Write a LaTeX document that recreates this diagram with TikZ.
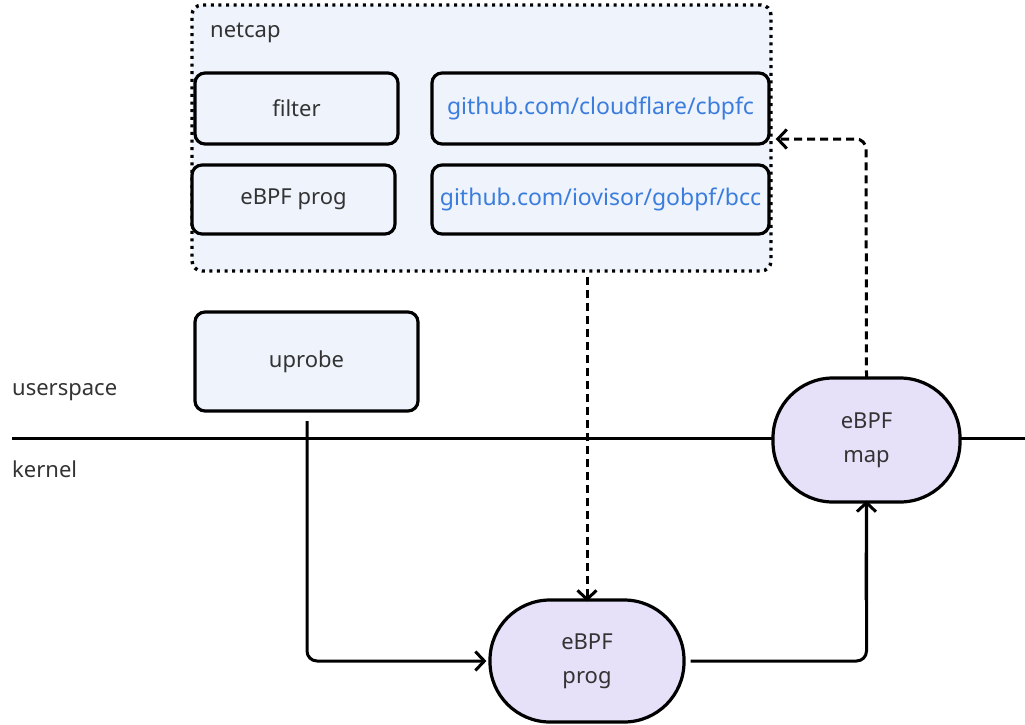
\documentclass[tikz,border=0pt]{standalone}
\usepackage{fontspec}
\setmainfont{Noto Sans}
\usetikzlibrary{arrows.meta}
\definecolor{txt}{HTML}{333333}
\definecolor{linkblue}{HTML}{3B7DDD}
\definecolor{paleblue}{HTML}{EEF3FC}
\definecolor{lavender}{HTML}{E6E0F8}
\tikzset{
  box/.style={draw=black, line width=3.2pt, rounded corners=10pt, fill=paleblue,
    text=txt, font=\fontsize{22}{26}\selectfont, inner sep=0pt},
  pill/.style={draw=black, line width=3.2pt, rounded corners=60pt, fill=lavender,
    text=txt, font=\fontsize{22}{34}\selectfont, align=center, inner sep=0pt},
  flow/.style={line width=3pt, rounded corners=10pt,
    -{Straight Barb[length=9pt,width=19pt,line width=3pt]}},
  dflow/.style={flow, dash pattern=on 8pt off 5pt},
  lbl/.style={text=txt, font=\fontsize{22}{26}\selectfont, anchor=west, inner sep=0pt},
  linktext/.style={text=linkblue, font=\fontsize{23}{26}\selectfont},
}
\begin{document}
\begin{tikzpicture}[x=1pt,y=-1pt]
  \useasboundingbox (0,0) rectangle (1025,725);

  % netcap container
  \node[draw=black, line width=3.4pt, dash pattern=on 3pt off 4.6pt, rounded corners=10pt,
        fill=paleblue, minimum width=579pt, minimum height=266pt, inner sep=0pt]
        (netcap) at (481.5,138) {};
  \node[lbl] (netcaplbl) at (210,33) {netcap};

  \node[box, minimum width=203pt, minimum height=71pt] (filter) at (296.5,108.5) {filter};
  \node[box, linktext, minimum width=337pt, minimum height=71pt] (cbpfc) at (600.5,108.5)
        {github.com/cloudflare/cbpfc};
  \node[box, minimum width=203pt, minimum height=69pt] (prog) at (293.5,199.5) {eBPF prog};
  \node[box, linktext, minimum width=337pt, minimum height=69pt] (gobpf) at (600.5,199.5)
        {github.com/iovisor/gobpf/bcc};

  % userspace / kernel split
  \node[lbl] (us) at (12,392) {userspace};
  \node[lbl] (kn) at (12,469) {kernel};
  \coordinate (splitL) at (12,438);
  \coordinate (splitR) at (1025,438);
  \draw[line width=3pt] (splitL) -- (splitR);

  \node[box, minimum width=223pt, minimum height=99pt] (uprobe) at (306.5,361.5) {uprobe};

  \node[pill, minimum width=187pt, minimum height=124pt] (map) at (866.5,440) {eBPF\\map};
  \node[pill, minimum width=194pt, minimum height=122pt] (kprog) at (587,661) {eBPF\\prog};

  % connectors
  \coordinate (upStart) at (307,421);
  \draw[flow] (upStart) |- ([xshift=-2pt]kprog.west);
  \draw[flow, -] ([xshift=5pt]kprog.east) -| (map.south);
  \draw[flow] (866,600) -- ([yshift=3pt]map.south);
  \draw[dflow] (netcap.south -| kprog.north) ++(0,4) -- ([yshift=-3pt]kprog.north);
  \coordinate (mapUp) at (866,139);
  \draw[dflow] ([yshift=-2pt]map.north) -- (mapUp) -- ([xshift=3pt]netcap.east |- mapUp);
\end{tikzpicture}
\end{document}
